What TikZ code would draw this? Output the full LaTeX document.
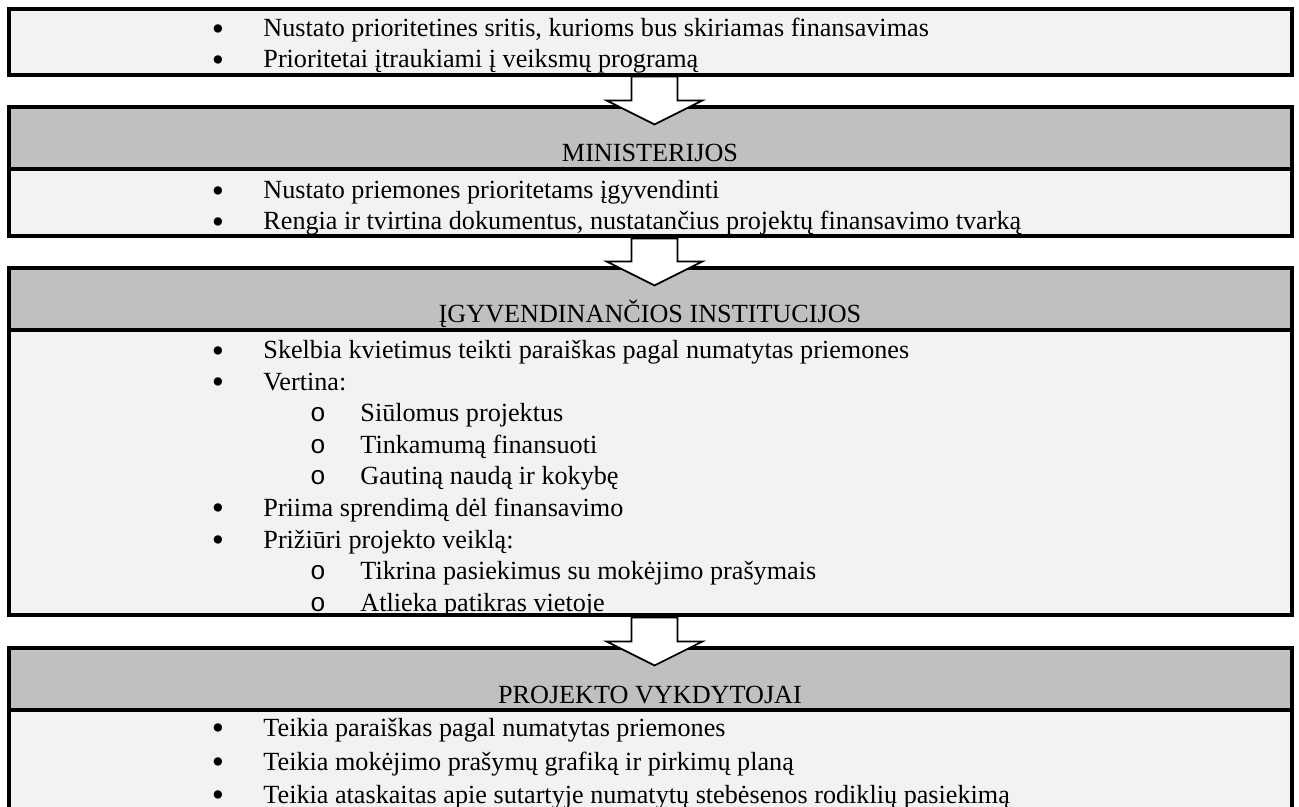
\documentclass[tikz,border=0pt]{standalone}
\usepackage{fontspec}
\setmainfont{Liberation Serif}
\newfontfamily\ringfont{Liberation Mono}
\usetikzlibrary{fit}
\definecolor{lightpanel}{HTML}{F2F2F2}
\definecolor{silverhead}{HTML}{C0C0C0}

\begin{document}
\begin{tikzpicture}[x=0.4583pt, y=-0.4583pt,
    every node/.style={font=\fontsize{12}{14}\selectfont},
    panel/.style={draw, line width=1.4pt, fill=lightpanel, inner sep=0pt},
    headpanel/.style={panel, fill=silverhead},
    item/.style={anchor=base west, inner sep=0pt},
    dot/.style={anchor=base, inner sep=0pt, yshift=-1.5pt, font=\fontsize{16}{16}\selectfont},
    ring/.style={anchor=base, inner sep=0pt, font=\fontsize{12}{14}\ringfont},
    title/.style={anchor=base, inner sep=0pt},
    downarrow/.style={draw, fill=white, line width=0.8pt, line join=miter}]
    \clip (0,0) rectangle (1299,807);

    % Priorities
    \node[panel, fit={(9,9) (1292,75)}] (prio) {};
    \node[dot] (prio-d1) at (218,37) {\textbullet};
    \node[item] (prio-t1) at (263,37) {Nustato prioritetines sritis, kurioms bus skiriamas finansavimas};
    \node[dot] (prio-d2) at (218,68) {\textbullet};
    \node[item] (prio-t2) at (263,68) {Prioritetai įtraukiami į veiksmų programą};

    % Ministerijos
    \node[headpanel, fit={(9,107) (1292,169)}] (min-h) {};
    \node[panel, fit={(9,169) (1292,236)}] (min-b) {};
    \node[title] (min-t) at (650,162) {MINISTERIJOS};
    \node[dot] (min-d1) at (218,199) {\textbullet};
    \node[item] (min-t1) at (263,199) {Nustato priemones prioritetams įgyvendinti};
    \node[dot] (min-d2) at (218,230) {\textbullet};
    \node[item] (min-t2) at (263,230) {Rengia ir tvirtina dokumentus, nustatančius projektų finansavimo tvarką};

    % Igyvendinancios institucijos
    \node[headpanel, fit={(9,268) (1292,330)}] (inst-h) {};
    \node[panel, fit={(9,330) (1292,615)}] (inst-b) {};
    \node[title] (inst-t) at (650,323) {ĮGYVENDINANČIOS INSTITUCIJOS};
    \node[dot] (inst-d1) at (218,359) {\textbullet};
    \node[item] (inst-t1) at (263,359) {Skelbia kvietimus teikti paraiškas pagal numatytas priemones};
    \node[dot] (inst-d2) at (218,390.5) {\textbullet};
    \node[item] (inst-t2) at (263,390.5) {Vertina:};
    \node[ring] (inst-r1) at (318,422) {o};
    \node[item] (inst-s1) at (360,422) {Siūlomus projektus};
    \node[ring] (inst-r2) at (318,453.5) {o};
    \node[item] (inst-s2) at (360,453.5) {Tinkamumą finansuoti};
    \node[ring] (inst-r3) at (318,485) {o};
    \node[item] (inst-s3) at (360,485) {Gautiną naudą ir kokybę};
    \node[dot] (inst-d3) at (218,516.5) {\textbullet};
    \node[item] (inst-t3) at (263,516.5) {Priima sprendimą dėl finansavimo};
    \node[dot] (inst-d4) at (218,548) {\textbullet};
    \node[item] (inst-t4) at (263,548) {Prižiūri projekto veiklą:};
    \node[ring] (inst-r4) at (318,579.5) {o};
    \node[item] (inst-s4) at (360,579.5) {Tikrina pasiekimus su mokėjimo prašymais};
    \node[ring] (inst-r5) at (318,611) {o};
    \node[item] (inst-s5) at (360,611) {Atlieka patikras vietoje};

    % Projekto vykdytojai
    \node[headpanel, fit={(9,648) (1292,710)}] (vyk-h) {};
    \node[panel, fit={(9,710) (1292,840)}] (vyk-b) {};
    \node[title] (vyk-t) at (650,703) {PROJEKTO VYKDYTOJAI};
    \node[dot] (vyk-d1) at (218,736) {\textbullet};
    \node[item] (vyk-t1) at (263,736) {Teikia paraiškas pagal numatytas priemones};
    \node[dot] (vyk-d2) at (218,770) {\textbullet};
    \node[item] (vyk-t2) at (263,770) {Teikia mokėjimo prašymų grafiką ir pirkimų planą};
    \node[dot] (vyk-d3) at (218,803) {\textbullet};
    \node[item] (vyk-t3) at (263,803) {Teikia ataskaitas apie sutartyje numatytų stebėsenos rodiklių pasiekimą};

    % Flow arrows
    \draw[downarrow, shift={(min-h.north)}] (-19,-29) -- (27,-29) -- (27,-5) -- (52,-5) -- (4,19) -- (-44,-5) -- (-19,-5) -- cycle;
    \draw[downarrow, shift={(inst-h.north)}] (-19,-28) -- (27,-28) -- (27,-5) -- (52,-5) -- (4,19) -- (-44,-5) -- (-19,-5) -- cycle;
    \draw[downarrow, shift={(vyk-h.north)}] (-19,-29) -- (27,-29) -- (27,-5) -- (52,-5) -- (4,19) -- (-44,-5) -- (-19,-5) -- cycle;
\end{tikzpicture}
\end{document}
